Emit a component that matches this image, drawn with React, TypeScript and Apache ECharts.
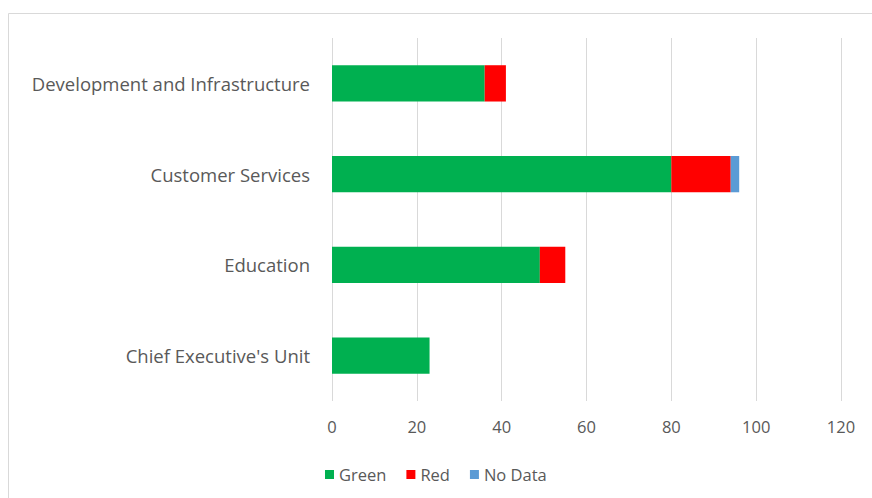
import React, { useEffect, useRef } from "react";
import * as echarts from "echarts";

const categories = [
  "Chief Executive's Unit",
  "Education",
  "Customer Services",
  "Development and Infrastructure",
];
const greenValues = [23, 49, 80, 36];
const redValues = [0, 6, 14, 5];
const noDataValues = [0, 0, 2, 0];
const xTicks = { min: 0, max: 120, interval: 20 };

const FONT = "'Segoe UI', 'Open Sans', 'Noto Sans', sans-serif";
const TEXT = "#595959";

export default function App() {
  const ref = useRef<HTMLDivElement>(null);
  useEffect(() => {
    if (!ref.current) return;
    const chart = echarts.init(ref.current, null, { renderer: "svg" });
    chart.setOption({
      animation: false,
      backgroundColor: "#ffffff",
      textStyle: { fontFamily: FONT },
      graphic: [
        {
          type: "rect",
          shape: { x: 8.5, y: 13.5, width: 900, height: 600 },
          style: { fill: "none", stroke: "#d9d9d9", lineWidth: 1 },
          silent: true,
        },
      ],
      grid: { left: 332, right: 31, top: 38, bottom: 97, containLabel: false },
      legend: {
        data: ["Green", "Red", "No Data"],
        left: 320,
        top: 461,
        itemWidth: 9,
        itemHeight: 9,
        itemGap: 20,
        icon: "rect",
        textStyle: { color: TEXT, fontSize: 16.5, fontFamily: FONT, padding: [0, 0, 0, 0] },
      },
      xAxis: {
        type: "value",
        min: xTicks.min,
        max: xTicks.max,
        interval: xTicks.interval,
        axisLine: { show: false },
        axisTick: { show: false },
        splitLine: { show: true, lineStyle: { color: "#d9d9d9", width: 1 } },
        axisLabel: { color: TEXT, fontSize: 16.5, margin: 17, fontFamily: FONT },
      },
      yAxis: {
        type: "category",
        data: categories,
        axisLine: { show: false },
        axisTick: { show: false },
        axisLabel: { color: TEXT, fontSize: 18.5, margin: 22, fontFamily: FONT },
      },
      series: [
        {
          name: "Green",
          type: "bar",
          stack: "total",
          data: greenValues,
          barCategoryGap: "60%",
          itemStyle: { color: "#00B050" },
        },
        {
          name: "Red",
          type: "bar",
          stack: "total",
          data: redValues,
          itemStyle: { color: "#FF0000" },
        },
        {
          name: "No Data",
          type: "bar",
          stack: "total",
          data: noDataValues,
          itemStyle: { color: "#5B9BD5" },
        },
      ],
    });
    return () => chart.dispose();
  }, []);
  return (
    <div
      ref={ref}
      style={{ position: "fixed", left: 0, top: 0, width: 872, height: 498 }}
    />
  );
}
